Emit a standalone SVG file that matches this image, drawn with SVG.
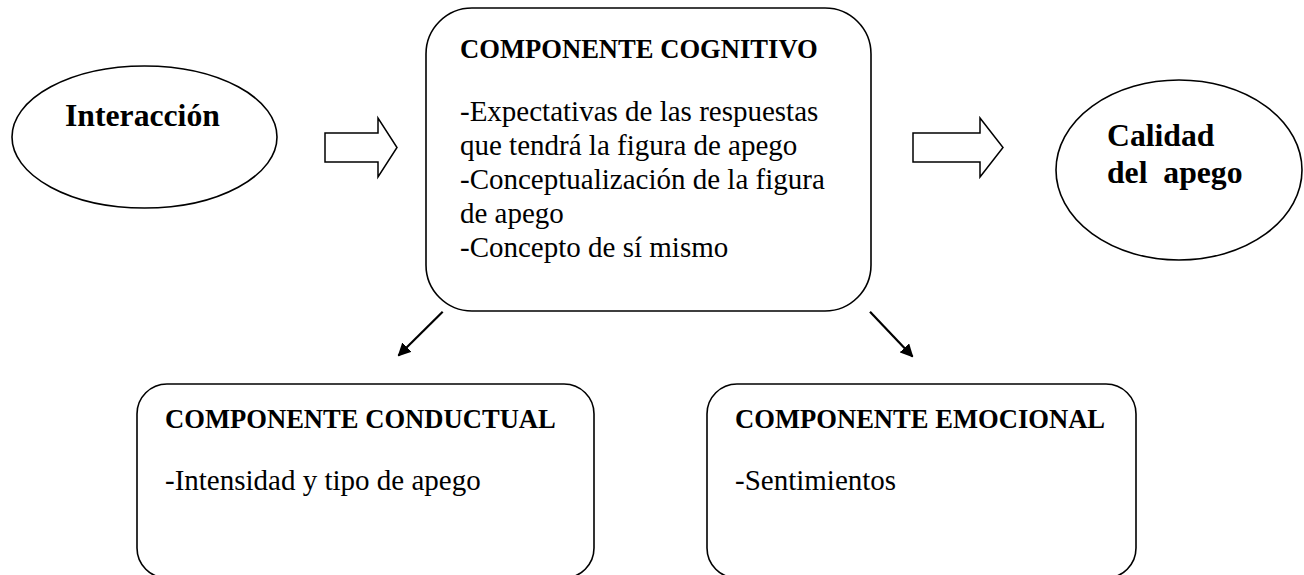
<svg xmlns="http://www.w3.org/2000/svg" width="1304" height="575" viewBox="0 0 1304 575">
<style>
.shape{fill:#fff;stroke:#000;stroke-width:1.6}
.big{font-family:"Liberation Serif","Times New Roman",serif;font-weight:bold;font-size:31.7px;fill:#000}
.title{font-family:"Liberation Serif","Times New Roman",serif;font-weight:bold;font-size:26.6px;fill:#000}
.body{font-family:"Liberation Serif","Times New Roman",serif;font-size:29px;fill:#000}
.conn{stroke:#000;stroke-width:2.2;fill:none}
.block{fill:#fff;stroke:#000;stroke-width:1.5;stroke-linejoin:miter}
</style>
<defs>
<marker id="ah" viewBox="0 0 10 10" refX="9" refY="5" markerWidth="6" markerHeight="6" markerUnits="strokeWidth" orient="auto">
<path d="M0,0 L10,5 L0,10 Z" fill="#000"/>
</marker>
</defs>
<rect width="1304" height="575" fill="#fff"/>
<g id="interaccion">
<ellipse class="shape" cx="144.5" cy="137" rx="132.5" ry="71"/>
<text class="big" x="65" y="126">Interacción</text>
</g>
<g id="cognitivo">
<rect class="shape" x="426" y="8" width="445" height="303" rx="46" ry="46"/>
<text class="title" x="460" y="58">COMPONENTE COGNITIVO</text>
<text class="body" x="460" y="121">-Expectativas de las respuestas</text>
<text class="body" x="460" y="155">que tendrá la figura de apego</text>
<text class="body" x="460" y="189">-Conceptualización de la figura</text>
<text class="body" x="460" y="223">de apego</text>
<text class="body" x="460" y="257">-Concepto de sí mismo</text>
</g>
<g id="calidad">
<ellipse class="shape" cx="1179" cy="170" rx="123" ry="90"/>
<text class="big" x="1107" y="146">Calidad</text>
<text class="big" x="1107" y="183" xml:space="preserve">del  apego</text>
</g>
<g id="conductual">
<rect class="shape" x="137" y="384" width="457" height="194" rx="30" ry="30"/>
<text class="title" x="165" y="428">COMPONENTE CONDUCTUAL</text>
<text class="body" x="165" y="490">-Intensidad y tipo de apego</text>
</g>
<g id="emocional">
<rect class="shape" x="707" y="384" width="429" height="194" rx="30" ry="30"/>
<text class="title" x="735" y="428">COMPONENTE EMOCIONAL</text>
<text class="body" x="735" y="490">-Sentimientos</text>
</g>
<g id="connectors">
<path class="block" d="M325,133 H378 V118 L397,147.5 L378,177 V162 H325 Z"/>
<path class="block" d="M913,133 H980 V118 L1003,147.5 L980,177 V162 H913 Z"/>
<line class="conn" x1="442.7" y1="311.7" x2="398.5" y2="355.5" marker-end="url(#ah)"/>
<line class="conn" x1="870" y1="311.7" x2="912.5" y2="356.5" marker-end="url(#ah)"/>
</g>
</svg>
